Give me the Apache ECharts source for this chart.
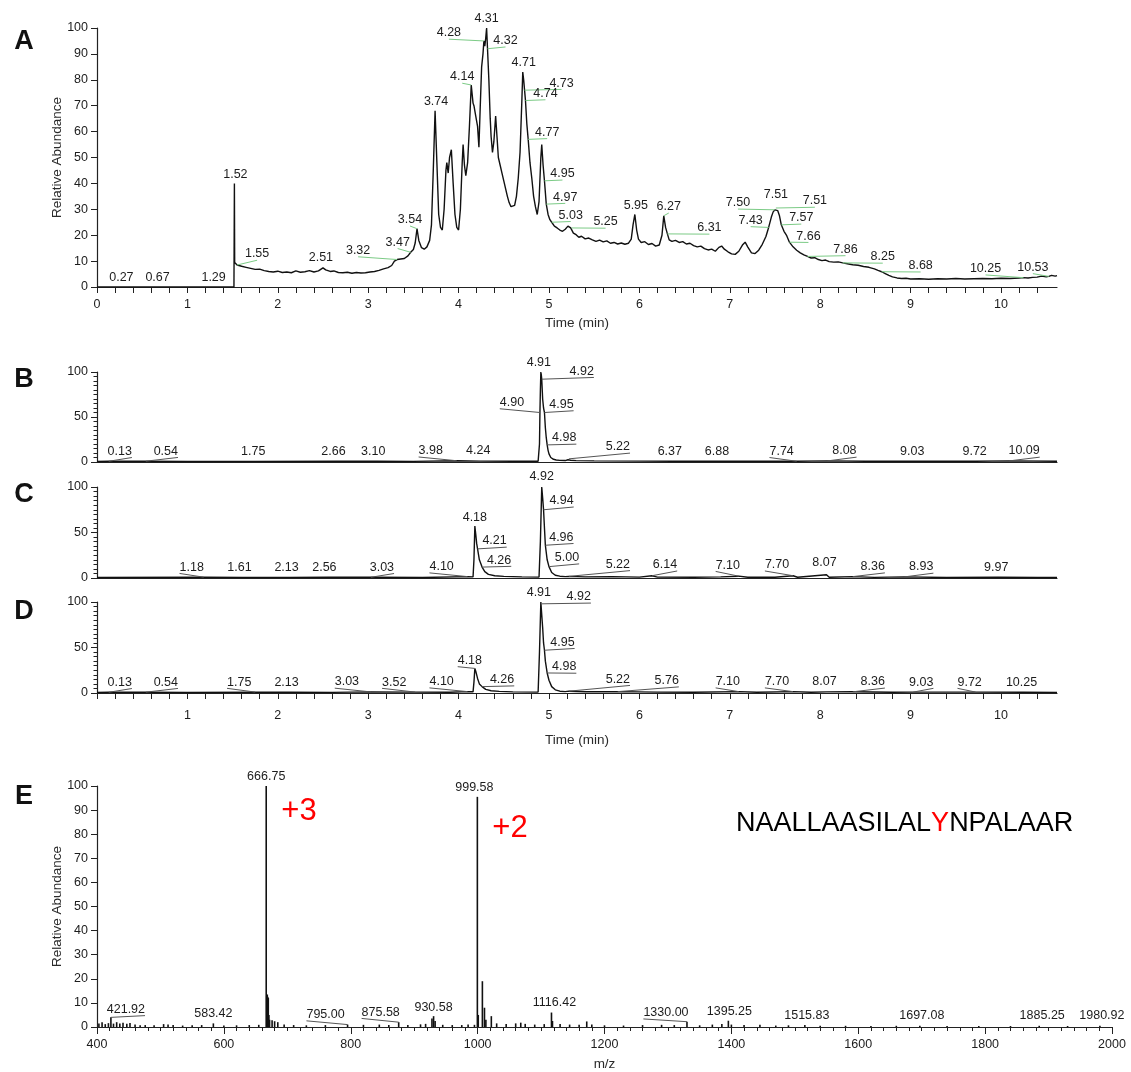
<!DOCTYPE html>
<html>
<head>
<meta charset="utf-8">
<title>LC-MS chromatograms and spectrum</title>
<script src="https://cdn.jsdelivr.net/npm/echarts@6/dist/echarts.min.js"></script>
<style>
  html, body { margin: 0; padding: 0; background: #fff; }
  #chart { width: 1131px; height: 1072px; }
</style>
</head>
<body>
<div id="chart"></div>
<script>
// ---------- data ----------
// Panel A: total ion chromatogram [time (min), relative abundance]
const ticA = [
  [0,0],[1.515,0],[1.52,40],[1.523,9.5],[1.55,8.5],[1.6,8.0],[1.65,7.6],[1.7,7.2],[1.75,6.8],[1.8,6.9],
  [1.85,6.3],[1.9,6.0],[1.95,5.8],[2.0,6.1],[2.05,5.6],[2.1,5.8],[2.15,5.5],[2.2,6.2],[2.25,5.7],[2.3,5.9],
  [2.35,6.3],[2.4,5.8],[2.45,6.2],[2.5,7.4],[2.51,7.8],[2.53,6.6],[2.58,6.0],[2.62,6.2],[2.67,5.6],[2.72,5.5],
  [2.77,5.7],[2.82,5.3],[2.87,5.6],[2.92,5.4],[2.97,5.5],[3.02,5.8],[3.07,6.0],[3.12,6.4],[3.17,7.0],[3.22,7.5],
  [3.26,8.3],[3.29,10.0],[3.32,10.6],[3.36,10.8],[3.40,11.0],[3.44,12.0],[3.47,13.4],[3.50,14.5],[3.52,17],[3.54,22.5],
  [3.56,18],[3.59,15.2],[3.62,14.6],[3.65,15.5],[3.68,18],[3.70,24],[3.72,45],[3.74,68],[3.76,48],[3.78,28],
  [3.80,23],[3.82,22],[3.84,30],[3.86,45],[3.87,48],[3.885,44],[3.90,50],[3.92,53],[3.94,40],[3.96,28],
  [3.98,23],[4.00,22],[4.02,30],[4.04,48],[4.05,55],[4.065,47],[4.08,43],[4.10,48],[4.12,62],[4.14,78],
  [4.16,71],[4.17,70],[4.19,66],[4.21,62],[4.225,54],[4.24,70],[4.255,85],[4.27,90],[4.28,95],[4.29,93],
  [4.30,96],[4.31,100],[4.32,92],[4.335,80],[4.35,65],[4.36,58],[4.375,52],[4.39,56],[4.41,66],[4.425,58],
  [4.44,50],[4.46,47],[4.48,44],[4.50,41],[4.52,38],[4.54,35],[4.56,32.5],[4.58,31],[4.60,30.5],[4.62,31.5],
  [4.64,35],[4.66,42],[4.68,52],[4.70,72],[4.71,83],[4.72,80],[4.73,76],[4.74,72],[4.755,63],[4.77,57],
  [4.79,48],[4.81,42],[4.83,35],[4.85,31],[4.87,28],[4.89,33],[4.91,50],[4.92,55],[4.935,47],[4.95,41],
  [4.97,32],[4.99,28],[5.01,26],[5.03,25],[5.06,23.5],[5.09,22.8],[5.12,22],[5.15,21.5],[5.18,22.3],[5.21,23.5],
  [5.24,22.8],[5.27,20.8],[5.30,20.2],[5.33,19.2],[5.36,19.6],[5.40,18.6],[5.44,18.9],[5.48,18.2],[5.52,17.6],[5.56,18.1],
  [5.60,17.4],[5.64,17.8],[5.68,16.9],[5.72,17.2],[5.76,16.6],[5.80,17.0],[5.84,16.5],[5.88,16.9],[5.91,18.5],[5.93,24],
  [5.95,28],[5.97,22],[5.99,18.5],[6.02,17.2],[6.06,17.5],[6.10,16.4],[6.14,16.8],[6.18,15.8],[6.22,16.2],[6.25,20],
  [6.27,27.5],[6.29,23],[6.31,20.5],[6.33,18.2],[6.36,17.6],[6.40,18.0],[6.44,17.2],[6.48,17.5],[6.52,16.6],[6.56,16.9],
  [6.60,16.0],[6.64,15.5],[6.68,15.8],[6.72,14.8],[6.76,14.3],[6.80,14.6],[6.84,13.8],[6.88,15.3],[6.91,15.8],[6.94,14.6],
  [6.98,13.6],[7.02,12.8],[7.06,12.6],[7.10,13.8],[7.14,16.2],[7.17,17.3],[7.20,15.4],[7.24,13.2],[7.28,12.9],[7.32,14.2],
  [7.36,16.5],[7.40,19.5],[7.43,23],[7.46,27],[7.48,29],[7.50,29.8],[7.51,30.5],[7.53,29.5],[7.55,27.5],[7.57,24],
  [7.60,21.5],[7.63,19.8],[7.66,17.3],[7.70,15.5],[7.74,14.2],[7.78,13.2],[7.82,12.4],[7.86,11.8],[7.90,11.2],[7.94,11.3],
  [7.98,10.6],[8.02,10.2],[8.06,10.4],[8.10,9.8],[8.15,9.6],[8.20,9.7],[8.25,9.3],[8.30,9.0],[8.36,8.6],[8.42,8.4],
  [8.48,7.9],[8.54,7.6],[8.60,7.0],[8.64,6.4],[8.68,5.9],[8.72,5.2],[8.76,4.5],[8.80,3.9],[8.85,3.5],[8.90,3.3],
  [8.95,3.4],[9.00,3.1],[9.10,3.2],[9.20,3.0],[9.30,3.2],[9.40,3.1],[9.50,3.3],[9.60,3.1],[9.70,3.2],[9.80,3.3],
  [9.90,3.2],[10.00,3.4],[10.10,3.3],[10.20,3.5],[10.25,3.6],[10.30,3.5],[10.35,3.7],[10.40,3.8],[10.45,4.2],[10.50,3.9],
  [10.53,4.1],[10.56,4.5],[10.60,4.2],[10.62,4.4]
];

// Panels B-D: extracted ion chromatograms
const xicB = [
  [0,0.6],[0.13,0.8],[0.54,0.9],[1.0,0.6],[1.75,0.7],[2.66,0.8],[3.10,0.8],[3.5,0.7],[3.98,1.4],[4.24,1.0],
  [4.6,0.8],[4.88,0.8],[4.895,20],[4.90,55],[4.905,80],[4.91,100],[4.915,97],[4.92,92],[4.93,70],[4.94,60],
  [4.95,55],[4.96,38],[4.97,27],[4.98,19],[4.99,13],[5.00,9],[5.02,5],[5.05,3],[5.08,2.2],[5.12,1.8],
  [5.18,1.6],[5.21,2.5],[5.22,3.5],[5.24,2],[5.3,1.5],[5.5,1.2],[6.0,1.0],[6.37,0.9],[6.88,0.8],[7.74,0.8],
  [8.08,1.2],[8.5,0.8],[9.03,0.8],[9.72,0.8],[10.09,1.2],[10.62,0.8]
];
const xicC = [
  [0,0.5],[1.18,0.9],[1.61,0.7],[2.13,0.7],[2.56,0.9],[3.03,0.8],[3.6,0.6],[4.10,1.5],[4.16,1.2],[4.17,20],
  [4.18,57],[4.19,48],[4.20,38],[4.21,32],[4.23,20],[4.26,12],[4.29,7],[4.33,4],[4.40,2.5],[4.5,1.8],
  [4.7,1.2],[4.89,1.0],[4.905,40],[4.92,100],[4.93,88],[4.94,75],[4.95,55],[4.96,36],[4.98,20],[5.00,12.5],
  [5.03,6],[5.07,3],[5.12,2],[5.18,1.5],[5.22,1.8],[5.4,1.2],[5.7,1.5],[6.0,1.0],[6.14,2.5],[6.2,1.0],
  [6.6,0.8],[6.9,1.2],[7.10,2.0],[7.2,0.8],[7.5,0.8],[7.70,2.5],[7.75,0.8],[8.07,3.5],[8.1,0.8],[8.36,1.5],
  [8.6,0.7],[8.93,1.2],[9.4,0.6],[9.97,0.8],[10.4,0.5],[10.62,0.6]
];
const xicD = [
  [0,0.6],[0.13,0.8],[0.54,0.9],[1.0,0.6],[1.75,1.0],[2.13,0.8],[2.6,0.7],[3.03,1.2],[3.52,1.0],[3.9,0.8],
  [4.10,1.5],[4.16,1.3],[4.17,12],[4.18,27],[4.19,24],[4.21,16],[4.23,10],[4.26,7],[4.3,4],[4.36,2.5],
  [4.45,1.8],[4.6,1.2],[4.88,1.0],[4.895,45],[4.91,100],[4.92,98],[4.93,72],[4.94,55],[4.95,47],[4.96,35],
  [4.98,22],[5.00,14],[5.03,7],[5.07,3.5],[5.12,2],[5.18,1.5],[5.22,2],[5.4,1.3],[5.76,1.5],[6.2,1.0],
  [6.6,0.8],[7.10,1.5],[7.3,0.8],[7.70,1.5],[7.9,0.8],[8.07,1.2],[8.36,1.3],[8.8,0.8],[9.03,1.0],[9.72,1.0],
  [10.25,0.9],[10.62,0.7]
];

// Panel E: centroid spectrum [m/z, relative abundance]
const spectrumE = [
  [403,1.5],[408,2.0],[413,1.2],[418,1.6],[421.92,4.0],[426,1.4],[431,2.0],[436,1.5],[441,1.8],[447,1.3],
  [452,1.7],[460,1.0],[468,0.7],[476,0.8],[490,0.7],[505,1.2],[512,1.0],[520,0.8],[535,0.6],[550,0.7],
  [565,0.8],[583.42,1.5],[600,0.6],[620,0.7],[640,0.8],[655,0.9],[666.75,100],[667.6,13],[668.4,13.5],[669.2,12.5],
  [670,12],[671,5],[672,3],[676,2.8],[680,2.4],[685,2],[695,1],[710,0.8],[730,0.7],[760,0.8],
  [795,1.0],[820,0.9],[845,1.0],[860,0.8],[875.58,2.0],[890,0.8],[910,1.1],[918,1.3],[928,3.5],[930.58,4.5],
  [933,2.5],[945,0.9],[960,0.8],[975,0.8],[985,1.0],[995,0.9],[999.58,95.5],[1001,5],[1007.5,19],[1010.8,8],
  [1013,3],[1021.6,4.5],[1030,1.5],[1045,1.2],[1060,1.5],[1068,1.8],[1075,1.3],[1090,1.0],[1105,1.2],[1116.42,6],
  [1118,2.5],[1130,1.2],[1145,1.0],[1160,0.9],[1172,2.3],[1180,1.0],[1200,0.7],[1230,0.6],[1260,0.8],[1290,0.9],
  [1310,0.8],[1330,2.2],[1350,0.7],[1370,1.0],[1385,1.2],[1395.25,2.6],[1400,1.0],[1420,0.8],[1445,0.9],[1470,0.6],
  [1490,0.7],[1515.83,0.8],[1540,0.5],[1580,0.5],[1620,0.4],[1660,0.5],[1697.08,0.5],[1740,0.4],[1790,0.4],[1840,0.4],
  [1885.25,0.5],[1930,0.4],[1980.92,0.5]
];

// Annotated peaks [position, abundance at that position]
const peaksA = [
  [0.27,0],[0.67,0],[1.29,0],[1.52,40],[1.55,8.5],[2.51,7.8],[3.32,10.6],[3.47,13.4],[3.54,22.5],[3.74,68],
  [4.14,78],[4.28,95],[4.31,100],[4.32,92],[4.71,83],[4.73,76],[4.74,72],[4.77,57],[4.95,41],[4.97,32],
  [5.03,25],[5.25,22.8],[5.95,28],[6.27,27.5],[6.31,20.5],[7.43,23],[7.50,29.8],[7.51,30.5],[7.51,30.5],[7.57,24],
  [7.66,17.3],[7.86,11.8],[8.25,9.3],[8.68,5.9],[10.25,3.6],[10.53,4.1]
];
const peaksB = [
  [0.13,0.8],[0.54,0.9],[1.75,0.7],[2.66,0.8],[3.10,0.8],[3.98,1.4],[4.24,1.0],[4.90,55],[4.91,100],[4.92,92],
  [4.95,55],[4.98,19],[5.22,3.5],[6.37,0.9],[6.88,0.8],[7.74,0.8],[8.08,1.2],[9.03,0.8],[9.72,0.8],[10.09,1.2]
];
const peaksC = [
  [1.18,0.9],[1.61,0.7],[2.13,0.7],[2.56,0.9],[3.03,0.8],[4.10,1.5],[4.18,57],[4.21,32],[4.26,12],[4.92,100],
  [4.94,75],[4.96,36],[5.00,12.5],[5.22,1.8],[6.14,2.5],[7.10,2.0],[7.70,2.5],[8.07,3.5],[8.36,1.5],[8.93,1.2],
  [9.97,0.8]
];
const peaksD = [
  [0.13,0.8],[0.54,0.9],[1.75,1.0],[2.13,0.8],[3.03,1.2],[3.52,1.0],[4.10,1.5],[4.18,27],[4.26,7],[4.91,100],
  [4.92,98],[4.95,47],[4.98,22],[5.22,2],[5.76,1.5],[7.10,1.5],[7.70,1.5],[8.07,1.2],[8.36,1.3],[9.03,1.0],
  [9.72,1.0],[10.25,0.9]
];
const peaksE = [
  [421.92,4.0],[583.42,1.5],[666.75,100],[795.00,1.0],[875.58,2.0],[930.58,4.5],[999.58,95.5],[1116.42,6],
  [1330.00,2.2],[1395.25,2.6],[1515.83,0.8],[1697.08,0.5],[1885.25,0.5],[1980.92,0.5]
];

// Axis tick labels
const timeTicks = [0,1,2,3,4,5,6,7,8,9,10];
const abundanceTicks = [0,10,20,30,40,50,60,70,80,90,100];
const mzTicks = [400,600,800,1000,1200,1400,1600,1800,2000];

// Text annotations
const panelLetters = ['A','B','C','D','E'];
const chargeStates = ['+3','+2'];
const peptide = 'NAALLAASILALYNPALAAR';
const modifiedResidue = 12; // index of the highlighted tyrosine

// ---------- layout (pixel offsets of each peak label from its peak) ----------
const offsetsA = [
  [0,-9],[0,-9],[0,-9],[1,-9],[20,-11],[-3,-9],[-39,-9],[-13,-10],[-7,-9],[1,-9],
  [-9,-8],[-35,-8],[0,-9],[18,-8],[1,-9],[37,-7],[20,-7],[19,-7],[18,-7],[19,-7],
  [19,-7],[34,-6],[1,-9],[5,-9],[42,-6],[-18,-7],[-37,-7],[0,-13],[39,-7],[20,-7],
  [19,-6],[38,-7],[40,-6],[39,-6],[-38,-9],[-16,-9]
];
const offsetsB = [
  [11,-10],[20,-10],[-2,-10],[-4,-10],[-4,-10],[-26,-10],[-2,-11],[-28,-10],[-2,-9],[40,-8],
  [17,-8],[17,-7],[49,-12],[-3,-10],[-2,-10],[-15,-10],[17,-10],[-1,-10],[-1,-10],[15,-10]
];
const offsetsC = [
  [-12,-10],[-3,-10],[-3,-10],[-4,-10],[11,-10],[-26,-10],[0,-9],[17,-8],[17,-7],[0,-10],
  [18,-9],[16,-8],[18,-9],[49,-12],[13,-11],[-11,-11],[-16,-11],[-2,-12],[20,-10],[17,-10],
  [-2,-10]
];
const offsetsD = [
  [11,-10],[20,-10],[-16,-10],[-3,-10],[-24,-10],[-21,-10],[-26,-10],[-5,-8],[20,-7],[-2,-9],
  [37,-7],[18,-8],[17,-6],[49,-12],[49,-11],[-11,-10],[-16,-10],[-2,-10],[20,-10],[8,-10],
  [-6,-10],[-2,-10]
];
const offsetsE = [
  [15,-8],[0,-10],[0,-9],[-22,-10],[-18,-10],[0,-9],[-3,-9],[3,-10],
  [-21,-9],[1,-9],[2,-10],[2,-10],[3,-10],[2,-10]
];

// ---------- chart ----------
const FONT = '"Liberation Sans", Arial, Helvetica, sans-serif';
const LABEL_SIZE = 12.5;
const NAME_SIZE = 13.5;
const INK = '#1c1c1c';
const GREEN = '#7ccb86';

const grids = [
  { left: 97, top: 28,  width: 960,  height: 259 },
  { left: 97, top: 372, width: 960,  height: 90 },
  { left: 97, top: 487, width: 960,  height: 91 },
  { left: 97, top: 602, width: 960,  height: 91 },
  { left: 97, top: 786, width: 1015, height: 244 }
];

// minor tick marks every 0.2 min along the time axes
const timeTickMarks = [];
for (let i = 0; i <= 52; i++) timeTickMarks.push(Math.round(i * 2) / 10);

function textWidth(s) {
  let w = 0;
  for (const c of s) w += (c === '.' ? 0.278 : 0.556);
  return w * LABEL_SIZE;
}

function peakLabels(axis, peaks, offsets, stroke, toEdge) {
  return {
    type: 'custom',
    xAxisIndex: axis, yAxisIndex: axis,
    z: 5, silent: true, clip: false, animation: false,
    data: peaks.map((p, k) => [p[0], p[1], k]),
    renderItem(params, api) {
      const x = api.value(0);
      const k = api.value(2);
      const pt = api.coord([x, api.value(1)]);
      const off = offsets[k];
      const text = x.toFixed(2);
      const tx = pt[0] + off[0], ty = pt[1] + off[1];
      const children = [];
      if (Math.abs(off[0]) >= 5) {
        const w = textWidth(text);
        const ex = toEdge ? tx + Math.sign(off[0]) * w / 2 : tx;
        const ey = ty + LABEL_SIZE * 0.5;
        children.push({
          type: 'line',
          shape: { x1: pt[0], y1: pt[1], x2: ex, y2: ey },
          style: { stroke: stroke, lineWidth: 1 }
        });
      }
      children.push({
        type: 'text',
        style: {
          x: tx, y: ty, text: text, fill: INK,
          font: LABEL_SIZE + 'px ' + FONT,
          textAlign: 'center', textVerticalAlign: 'middle'
        }
      });
      return { type: 'group', children: children };
    }
  };
}

function traceSeries(axis, data) {
  return {
    type: 'line', xAxisIndex: axis, yAxisIndex: axis,
    data: data, showSymbol: false, symbol: 'none', animation: false,
    lineStyle: { color: '#111', width: 1.4 }, z: 3
  };
}

const axisLineStyle = { show: true, onZero: false, lineStyle: { color: '#222', width: 1.2 } };
const tickStyle = { color: '#222', width: 1 };
const labelStyle = { fontSize: LABEL_SIZE, color: INK, fontFamily: FONT };
const nameStyle = { fontSize: NAME_SIZE, color: '#2a2a2a', fontFamily: FONT };

function timeAxis(grid, opts) {
  const ax = {
    gridIndex: grid, type: 'value', min: 0, max: 10.62,
    axisLine: axisLineStyle,
    axisTick: { show: false },
    axisLabel: { show: false },
    splitLine: { show: false }
  };
  if (opts.ticks) {
    ax.axisTick = { show: true, customValues: timeTickMarks, length: 6, lineStyle: tickStyle };
    ax.axisLabel = Object.assign({
      show: true, margin: opts.margin,
      customValues: timeTicks.filter(v => opts.zeroLabel || v > 0),
      formatter: v => String(v)
    }, labelStyle);
    ax.name = 'Time (min)';
    ax.nameLocation = 'middle';
    ax.nameGap = opts.nameGap;
    ax.nameMoveOverlap = false;
    ax.nameTextStyle = nameStyle;
  }
  return ax;
}

function abundanceAxis(grid, full) {
  const ax = {
    gridIndex: grid, type: 'value', min: 0, max: 100,
    interval: full ? 10 : 50,
    axisLine: axisLineStyle,
    axisTick: { show: true, length: 6, lineStyle: tickStyle },
    axisLabel: Object.assign({ margin: 9 }, labelStyle),
    splitLine: { show: false }
  };
  if (full) {
    ax.name = 'Relative Abundance';
    ax.nameLocation = 'middle';
    ax.nameRotate = 90;
    ax.nameGap = 33;
    ax.nameMoveOverlap = false;
    ax.nameTextStyle = nameStyle;
  } else {
    ax.minorTick = { show: true, splitNumber: 10, length: 3.5, lineStyle: tickStyle };
    ax.minorSplitLine = { show: false };
  }
  return ax;
}

const spectrumSticks = {
  type: 'custom', xAxisIndex: 4, yAxisIndex: 4, animation: false, silent: true, z: 3,
  data: spectrumE,
  renderItem(params, api) {
    const mz = api.value(0);
    const p0 = api.coord([mz, 0]);
    const p1 = api.coord([mz, api.value(1)]);
    return {
      type: 'line',
      shape: { x1: p0[0], y1: p0[1], x2: p1[0], y2: p1[1] },
      style: { stroke: '#111', lineWidth: 1.6 }
    };
  }
};

const letterY = [42, 380, 495, 612, 797];
const graphics = panelLetters.map((L, i) => ({
  type: 'text', silent: true,
  style: {
    x: 24, y: letterY[i], text: L, fill: '#111',
    font: 'bold 27px ' + FONT, textAlign: 'center', textVerticalAlign: 'middle'
  }
}));
const chargePos = [[299, 811], [510, 828]];
chargeStates.forEach((c, i) => graphics.push({
  type: 'text', silent: true,
  style: {
    x: chargePos[i][0], y: chargePos[i][1], text: c, fill: '#ff0000',
    font: '31px ' + FONT, textAlign: 'center', textVerticalAlign: 'middle'
  }
}));
graphics.push({
  type: 'text', silent: true,
  style: {
    x: 736, y: 824,
    text: '{n|' + peptide.slice(0, modifiedResidue) + '}{m|' + peptide[modifiedResidue] + '}{n|' + peptide.slice(modifiedResidue + 1) + '}',
    textVerticalAlign: 'middle', textAlign: 'left',
    rich: {
      n: { fill: '#000', font: '27px ' + FONT },
      m: { fill: '#ff0000', font: '27px ' + FONT }
    }
  }
});

const option = {
  backgroundColor: '#fff',
  animation: false,
  textStyle: { fontFamily: FONT },
  grid: grids,
  xAxis: [
    timeAxis(0, { ticks: true, zeroLabel: true, margin: 11, nameGap: 29 }),
    timeAxis(1, {}),
    timeAxis(2, {}),
    timeAxis(3, { ticks: true, zeroLabel: false, margin: 16, nameGap: 40 }),
    {
      gridIndex: 4, type: 'value', min: mzTicks[0], max: mzTicks[mzTicks.length - 1], interval: 200,
      axisLine: axisLineStyle,
      axisTick: { show: true, length: 7, lineStyle: tickStyle },
      minorTick: { show: true, splitNumber: 10, length: 4, lineStyle: tickStyle },
      minorSplitLine: { show: false },
      axisLabel: Object.assign({ margin: 11, formatter: v => String(v) }, labelStyle),
      splitLine: { show: false },
      name: 'm/z', nameLocation: 'middle', nameGap: 30, nameMoveOverlap: false,
      nameTextStyle: nameStyle
    }
  ],
  yAxis: [
    abundanceAxis(0, true),
    abundanceAxis(1, false),
    abundanceAxis(2, false),
    abundanceAxis(3, false),
    abundanceAxis(4, true)
  ],
  series: [
    traceSeries(0, ticA),
    traceSeries(1, xicB),
    traceSeries(2, xicC),
    traceSeries(3, xicD),
    spectrumSticks,
    peakLabels(0, peaksA, offsetsA, GREEN, false),
    peakLabels(1, peaksB, offsetsB, '#555', true),
    peakLabels(2, peaksC, offsetsC, '#555', true),
    peakLabels(3, peaksD, offsetsD, '#555', true),
    peakLabels(4, peaksE, offsetsE, '#555', true)
  ],
  graphic: graphics
};

const chart = echarts.init(document.getElementById('chart'), null, { renderer: 'canvas', width: 1131, height: 1072 });
chart.setOption(option);
</script>
</body>
</html>
